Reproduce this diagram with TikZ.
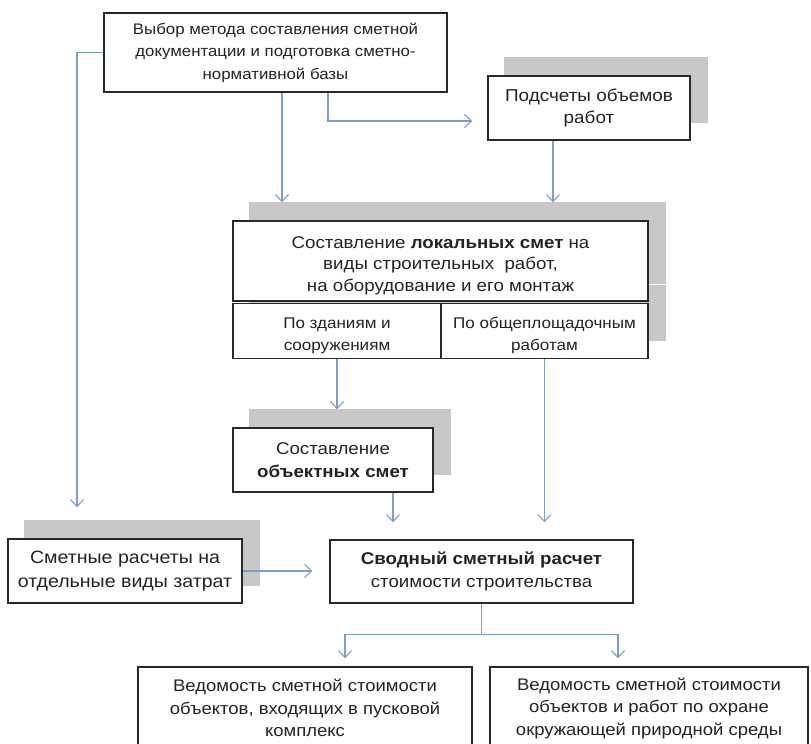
\documentclass[tikz,border=0pt]{standalone}
\usepackage{fontspec}
\setmainfont{Liberation Sans}[FakeStretch=1.1]
\usetikzlibrary{arrows.meta,backgrounds,calc}
\definecolor{linkblue}{RGB}{125,158,200}
\definecolor{shadowgrey}{RGB}{200,200,200}
\definecolor{framegrey}{RGB}{40,40,40}
\definecolor{inkgrey}{RGB}{35,35,35}
% taller first line, pushes a centred text block a little lower
\newcommand{\lowerstart}{\rule{0pt}{21pt}}

\begin{document}
\begin{tikzpicture}[x=1pt,y=-1pt,
  box/.style={draw=framegrey, line width=1.4pt, fill=white, inner sep=0pt,
    align=center, text=inkgrey, font=\fontsize{17}{22.5}\selectfont},
  arr/.style={draw=linkblue, line width=1.1pt, -{Straight Barb[length=7pt,width=13pt]}},
  link/.style={draw=linkblue, line width=1.1pt},
  shade/.style={fill=shadowgrey}]
\useasboundingbox (0,0) rectangle (811,744);

% boxes
\node[box, font=\fontsize{15.3}{22.5}\selectfont, minimum width=343pt, minimum height=79pt] (b1) at (275.5,52.5)
  {Выбор метода составления сметной\\документации и подготовка сметно-\\нормативной базы};
\node[box, font=\fontsize{17.2}{22}\selectfont, minimum width=202pt, minimum height=64pt] (cnt) at (589,108)
  {Подсчеты объемов\\работ};
\node[box, font=\fontsize{17}{21.5}\selectfont, minimum width=415pt, minimum height=80pt] (loc) at (440.5,261)
  {\lowerstart Составление \textbf{локальных смет} на\\виды строительных\ \ работ,\\на оборудование и его монтаж};
\node[box, font=\fontsize{15.5}{22}\selectfont, minimum width=208pt, minimum height=55pt] (subL) at (337,331)
  {\lowerstart По зданиям и\\сооружениям};
\node[box, font=\fontsize{15.5}{22}\selectfont, minimum width=207pt, minimum height=55pt] (subR) at (544.5,331)
  {\lowerstart По общеплощадочным\\работам};
\node[box, minimum width=200pt, minimum height=64pt] (obj) at (333,460)
  {Составление\\\textbf{объектных смет}};
\node[box, font=\fontsize{17.8}{24.5}\selectfont, minimum width=234pt, minimum height=64pt] (sm) at (125,571)
  {Сметные расчеты на\\отдельные виды затрат};
\node[box, minimum width=303pt, minimum height=63pt] (svod) at (481.5,571.5)
  {\textbf{Сводный сметный расчет}\\стоимости строительства};
\node[box, font=\fontsize{16.8}{22.5}\selectfont, minimum width=334pt, minimum height=82pt] (bl) at (305,708)
  {Ведомость сметной стоимости\\объектов, входящих в пусковой\\комплекс};
\node[box, font=\fontsize{16.8}{22.5}\selectfont, minimum width=318pt, minimum height=82pt] (br) at (649,708)
  {Ведомость сметной стоимости\\объектов и работ по охране\\окружающей природной среды};

% grey offset shadows behind the boxes
\begin{pgfonlayer}{background}
  \fill[white] (0,0) rectangle (811,744);
  \foreach \n in {cnt,loc,subL,subR,obj,sm}
    \fill[shade] ([shift={(17,-18)}]\n.south west) rectangle ([shift={(17,-18)}]\n.north east);
\end{pgfonlayer}

% points where arrows stop, just above the shadows
\coordinate (locTop) at ([yshift=18pt]loc.north);
\coordinate (objTop) at ([yshift=18pt]obj.north);
\coordinate (svodTop) at ([yshift=17pt]svod.north);

% connectors
\draw[arr] ([xshift=6.5pt]b1.south) coordinate (p1) -- (p1 |- locTop);
\draw[arr] ([xshift=52.5pt]b1.south) |- ([xshift=-15pt,yshift=-13pt]cnt.west);
\draw[arr] (b1.west) -| ([xshift=-48pt,yshift=31pt]sm.north);
\draw[arr] ([xshift=-36pt]cnt.south) coordinate (p2) -- (p2 |- locTop);
\draw[arr] (subL.south) -- (subL.south |- objTop);
\draw[arr] (subR.south) -- (subR.south |- svodTop);
\draw[arr] ([xshift=60pt]obj.south) coordinate (p3) -- (p3 |- svodTop);
\draw[arr] (sm.east) -- ([xshift=-17pt]svod.west |- sm.east);
\draw[link] (svod.south) -- ++(0,31) coordinate (fork);
\draw[arr] (fork) -| ([xshift=40pt,yshift=8pt]bl.north);
\draw[arr] (fork) -| ([xshift=-31pt,yshift=8pt]br.north);
\end{tikzpicture}
\end{document}
